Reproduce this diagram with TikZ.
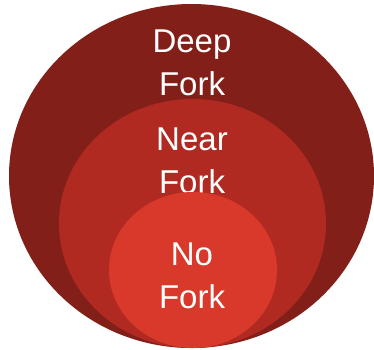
\documentclass[tikz,border=0pt]{standalone}
\usepackage{fontspec}
\newfontfamily\lab{Liberation Sans}
\usetikzlibrary{shapes.geometric}
\definecolor{deepc}{RGB}{131,31,25}
\definecolor{nearc}{RGB}{177,42,33}
\definecolor{noc}{RGB}{217,57,43}
\begin{document}
\begin{tikzpicture}[x=1pt,y=1pt,
  blob/.style={ellipse, inner sep=0pt, draw=none},
  lbl/.style={anchor=base, text=white, inner sep=0pt, font=\lab\fontsize{33}{40}\selectfont}]
\useasboundingbox (0,0) rectangle (374,-349);
\node[blob, fill=deepc, minimum width=365pt, minimum height=344pt] (deep) at (191.5,-176) {};
\node[lbl] (deepA) at (192,-52) {Deep};
\node[lbl] (deepB) at (192,-95) {Fork};
\node[blob, fill=nearc, minimum width=267pt, minimum height=249pt] (near) at (192.5,-223.5) {};
\node[lbl] (nearA) at (192,-150) {Near};
\node[lbl] (nearB) at (192,-193) {Fork};
\node[blob, fill=noc, minimum width=168pt, minimum height=156pt] (no) at (193,-270) {};
\node[lbl] (noA) at (192,-265) {No};
\node[lbl] (noB) at (192,-308) {Fork};
\end{tikzpicture}
\end{document}
